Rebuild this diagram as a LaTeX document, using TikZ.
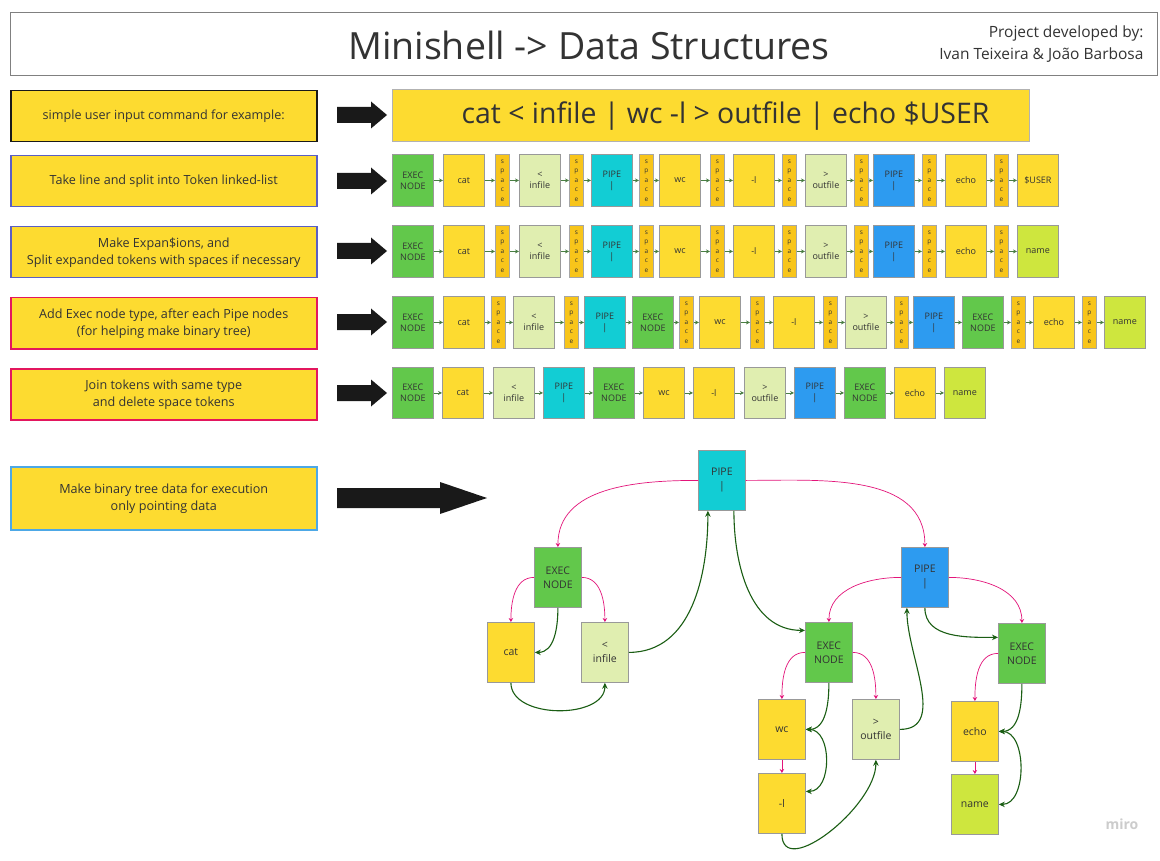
\documentclass[tikz,border=0pt]{standalone}
\usepackage{fontspec}
\setmainfont{Open Sans}
\usetikzlibrary{arrows.meta}

\definecolor{ylw}{HTML}{FDDB30}
\definecolor{exe}{HTML}{62C84B}
\definecolor{pal}{HTML}{E0EEB0}
\definecolor{cya}{HTML}{12CDD4}
\definecolor{blu}{HTML}{2D9BF0}
\definecolor{lim}{HTML}{CEE63E}
\definecolor{spy}{HTML}{F8C51A}
\definecolor{pnk}{HTML}{E3157A}
\definecolor{dkg}{HTML}{1B5E14}
\definecolor{txt}{HTML}{333333}
\definecolor{ind}{HTML}{5A5FC4}
\definecolor{crm}{HTML}{E3165E}
\definecolor{skb}{HTML}{4DA8E6}
\newcommand{\spctxt}{s\\p\\a\\c\\e}

\begin{document}
\begin{tikzpicture}[x=1pt,y=-1pt,
  tok/.style={draw=black!40,line width=0.8pt,anchor=north west,minimum width=41,minimum height=52,inner sep=0,align=center,text=txt,font=\fontsize{9}{11}\selectfont},
  spc/.style={fill=spy,draw=black!35,minimum width=14,font=\fontsize{6.5}{9.5}\selectfont},
  exe/.style={fill=exe},ylw/.style={fill=ylw},inf/.style={fill=pal},
  pipa/.style={fill=cya},pipb/.style={fill=blu},nam/.style={fill=lim},
  lbox/.style={fill=ylw,line width=1.5pt,anchor=north west,minimum width=306,minimum height=51,align=center,text=txt,font=\fontsize{12.6}{17}\selectfont},
  tn/.style={tok,minimum width=47,minimum height=60,font=\fontsize{10.5}{14}\selectfont},
  lk/.style={draw=dkg!80,line width=0.8pt,-{Stealth[length=4pt,width=4pt]}},
  pk/.style={draw=pnk,line width=0.7pt,-{Stealth[length=4pt,width=4.5pt]}},
  gr/.style={draw=dkg,line width=1.1pt,-{Stealth[length=6pt,width=5.5pt]}}]
 \fill[white] (0,0) rectangle (1160,861); %背景
 \useasboundingbox (0,0) rectangle (1160,861);

 \node[draw=black!50,line width=0.8pt,anchor=north west,minimum width=1147,minimum height=63] (title) at (10,12) {}; %タイトル
 \node[text=txt,font=\fontsize{37.5}{40}\selectfont] (ttl) at (589,45) {Minishell -> Data Structures};
 \node[text=txt,anchor=east,align=right,font=\fontsize{15.5}{22}\selectfont] (auth) at (1147,44) {Project developed by:\\Ivan Teixeira \& João Barbosa};

 %左の説明
 \node[lbox,draw=black!90] (s1) at (10,90) {simple user input command for example:};
 \node[lbox,draw=ind] (s2) at (10,155) {Take line and split into Token linked-list};
 \node[lbox,draw=ind] (s3) at (10,226) {Make Expan\$ions, and\\Split expanded tokens with spaces if necessary};
 \node[lbox,draw=crm] (s4) at (10,297) {Add Exec node type, after each Pipe nodes\\(for helping make binary tree)};
 \node[lbox,draw=crm] (s5) at (10,368) {Join tokens with same type\\and delete space tokens};
 \node[lbox,draw=skb,minimum height=63] (s6) at (10,466) {Make binary tree data for execution\\only pointing data};

 %太い矢印
 \foreach \y in {115,181,251,322,393}
   \fill[black!90] (337,\y-8)--(371,\y-8)--(371,\y-13.5)--(387,\y)--(371,\y+13.5)--(371,\y+8)--(337,\y+8)--cycle;
 \fill[black!90] (337,488)--(440,488)--(440,482)--(487,498)--(440,514)--(440,508)--(337,508)--cycle;

 \node[tok,fill=ylw,draw=black!30,minimum width=637,minimum height=52] (cmd) at (392,89) {}; %入力
 \node[text=txt,font=\fontsize{28.4}{30}\selectfont] (cmdt) at (725.5,116) {cat < infile | wc -l > outfile | echo \$USER};

 %トークンリスト
 \foreach \x/\k/\t [count=\i] in {392/exe/{EXEC\\NODE},443/ylw/cat,495/spc/\spctxt,519/inf/{<\\infile},569/spc/\spctxt,591/pipa/{PIPE\\|},639/spc/\spctxt,659/ylw/wc,710/spc/\spctxt,733/ylw/-l,782/spc/\spctxt,805/inf/{>\\outfile},854/spc/\spctxt,873/pipb/{PIPE\\|},922/spc/\spctxt,945/ylw/echo,994/spc/\spctxt,1017/ylw/\$USER}
   \node[tok,\k] (a\i) at (\x,154) {\t};
 \foreach \i [evaluate=\i as \j using int(\i+1)] in {1,...,17}
   \draw[lk] (a\i.east)--(a\j.west);

 \foreach \x/\k/\t [count=\i] in {392/exe/{EXEC\\NODE},443/ylw/cat,495/spc/\spctxt,519/inf/{<\\infile},569/spc/\spctxt,591/pipa/{PIPE\\|},639/spc/\spctxt,659/ylw/wc,710/spc/\spctxt,733/ylw/-l,782/spc/\spctxt,805/inf/{>\\outfile},854/spc/\spctxt,873/pipb/{PIPE\\|},922/spc/\spctxt,945/ylw/echo,994/spc/\spctxt,1017/nam/name}
   \node[tok,\k] (b\i) at (\x,225) {\t};
 \foreach \i [evaluate=\i as \j using int(\i+1)] in {1,...,17}
   \draw[lk] (b\i.east)--(b\j.west);

 \foreach \x/\k/\t [count=\i] in {392/exe/{EXEC\\NODE},443/ylw/cat,491/spc/\spctxt,513/inf/{<\\infile},564/spc/\spctxt,584/pipa/{PIPE\\|},632/exe/{EXEC\\NODE},679/spc/\spctxt,699/ylw/wc,750/spc/\spctxt,773/ylw/-l,823/spc/\spctxt,845/inf/{>\\outfile},894/spc/\spctxt,913/pipb/{PIPE\\|},962/exe/{EXEC\\NODE},1011/spc/\spctxt,1033/ylw/echo,1082/spc/\spctxt,1104/nam/name}
   \node[tok,\k] (c\i) at (\x,296) {\t};
 \foreach \i [evaluate=\i as \j using int(\i+1)] in {1,...,19}
   \draw[lk] (c\i.east)--(c\j.west);

 \foreach \x/\k/\t [count=\i] in {392/exe/{EXEC\\NODE},442/ylw/cat,493/inf/{<\\infile},543/pipa/{PIPE\\|},593/exe/{EXEC\\NODE},643/ylw/wc,693/ylw/-l,744/inf/{>\\outfile},794/pipb/{PIPE\\|},844/exe/{EXEC\\NODE},894/ylw/echo,944/nam/name}
   \node[tok,\k,minimum height=51] (d\i) at (\x,367) {\t};
 \foreach \i [evaluate=\i as \j using int(\i+1)] in {1,...,11}
   \draw[lk] (d\i.east)--(d\j.west);

 %二分木
 \node[tn,pipa] (root) at (698,450) {PIPE\\|};
 \node[tn,exe] (ex1) at (534,547) {EXEC\\NODE};
 \node[tn,ylw] (tcat) at (487,622) {cat};
 \node[tn,inf] (tinf) at (581,622) {<\\infile};
 \node[tn,pipb] (pip2) at (901,547) {PIPE\\|};
 \node[tn,exe] (ex2) at (805,622) {EXEC\\NODE};
 \node[tn,ylw] (twc) at (758,699) {wc};
 \node[tn,ylw] (tl) at (758,773) {-l};
 \node[tn,inf] (tout) at (852,699) {>\\outfile};
 \node[tn,exe] (ex3) at (998,623) {EXEC\\NODE};
 \node[tn,ylw] (techo) at (951,701) {echo};
 \node[tn,nam] (tname) at (951,774) {name};

 \draw[pk] (root.west) to[out=180,in=90] (ex1.north);
 \draw[pk] (root.east) to[out=0,in=90] (pip2.north);
 \draw[pk] (ex1.west) to[out=180,in=90] (tcat.north);
 \draw[pk] (ex1.east) to[out=0,in=90] (tinf.north);
 \draw[pk] (pip2.west) to[out=180,in=90] (ex2.north);
 \draw[pk] (pip2.east) to[out=0,in=90] (ex3.north);
 \draw[pk] (ex2.west) to[out=180,in=90] (twc.north);
 \draw[pk] (ex2.east) to[out=0,in=90] (tout.north);
 \draw[pk] (ex3.west) to[out=180,in=90] (techo.north);
 \draw[pk] (twc.south)--(tl.north);
 \draw[pk] (techo.south)--(tname.north);

 \draw[gr] (ex1.south) to[out=-90,in=0] (tcat.east);
 \draw[gr] (tcat.south) to[out=-90,in=-90] (tinf.south);
 \draw[gr] (tinf.east) to[out=0,in=-90] ([xshift=-14]root.south);
 \draw[gr] ([xshift=12]root.south) to[out=-90,in=180] ([yshift=22]ex2.west);
 \draw[gr] (ex2.south) to[out=-90,in=0] (twc.east);
 \draw[gr,{Stealth[length=6pt,width=5.5pt]}-{Stealth[length=6pt,width=5.5pt]}] (twc.east) to[out=0,in=0,looseness=1.1] ([yshift=12]tl.east);
 \draw[gr] (tl.south) to[out=-90,in=-90] (tout.south);
 \draw[gr] (tout.east) to[out=0,in=-90] ([xshift=-18]pip2.south);
 \draw[gr] (pip2.south) to[out=-90,in=180] ([yshift=16]ex3.west);
 \draw[gr] (ex3.south) to[out=-90,in=0] (techo.east);
 \draw[gr,{Stealth[length=6pt,width=5.5pt]}-{Stealth[length=6pt,width=5.5pt]}] (techo.east) to[out=0,in=0] (tname.east);

 \node[text=black!20,font=\fontsize{14}{16}\selectfont\bfseries] (miro) at (1122,824) {miro};
\end{tikzpicture}
\end{document}
